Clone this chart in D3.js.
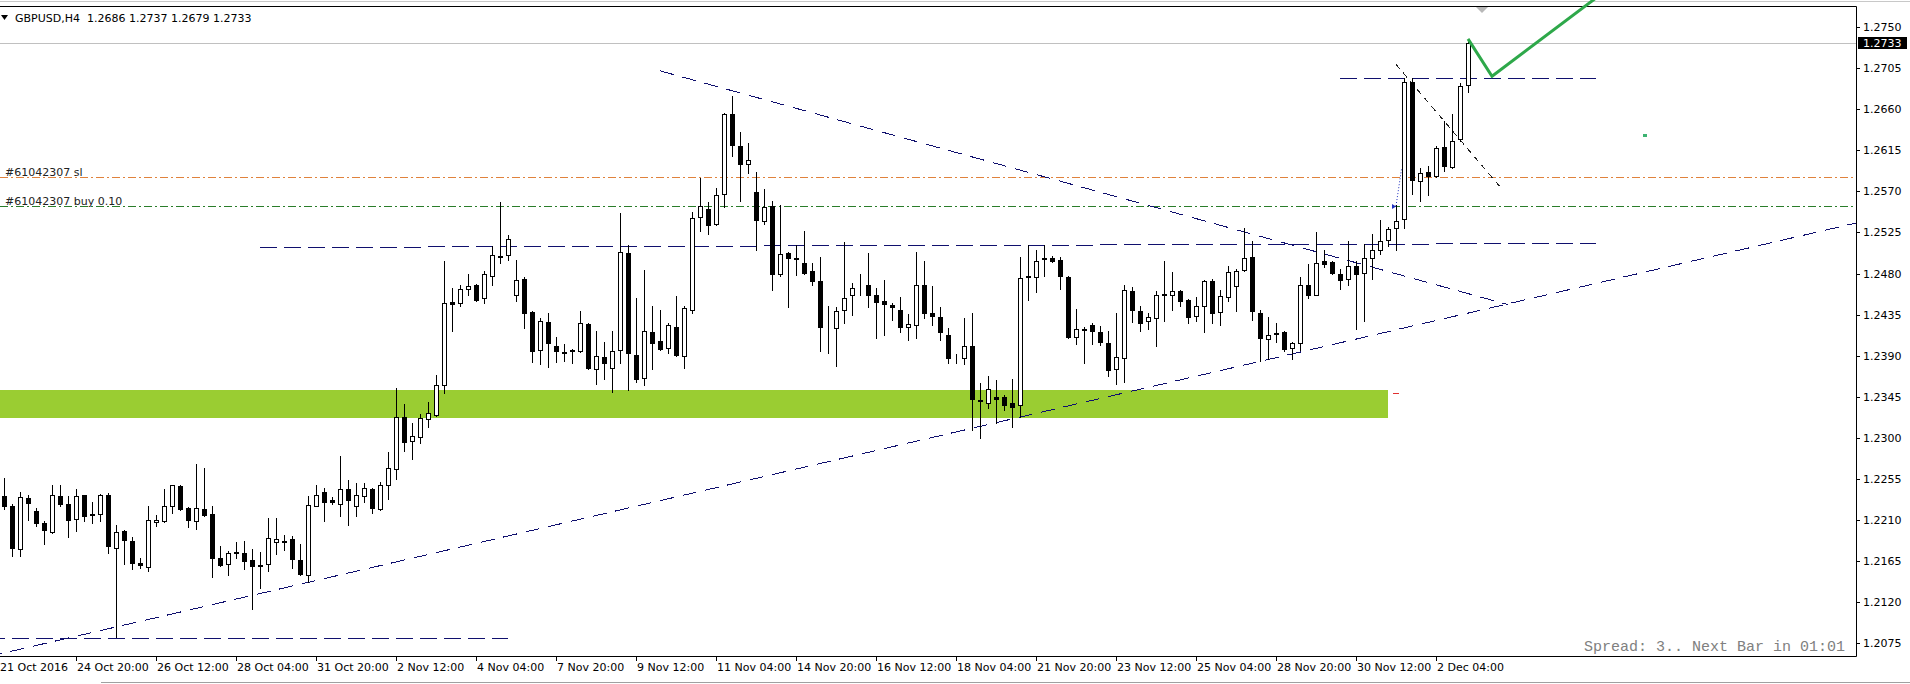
<!DOCTYPE html>
<html>
<head>
<meta charset="utf-8">
<script src="https://cdn.jsdelivr.net/npm/d3@7"></script>
<style>
    html, body { margin: 0; padding: 0; background: #fff; overflow: hidden; }
    svg { display: block; }
    text { font-family: "DejaVu Sans", sans-serif; font-size: 11px; }
</style>
</head>
<body>
<svg id="chart" width="1910" height="684"></svg>
<script>
;(function () {
    "use strict";

    // ---- data (GBPUSD H4, 21 Oct 2016 08:00 .. 2 Dec 2016 20:00) ----
    var symbolTitle = "GBPUSD,H4  1.2686 1.2737 1.2679 1.2733";
    var firstBarTime = "2016-10-21T08:00";

    var openPrices = [
        1.2236,1.2226,1.2178,1.2234,1.2220,1.2207,1.2197,1.2236,1.2228,1.2211,
        1.2237,1.2216,1.2217,1.2238,1.2179,1.2198,1.2187,1.2163,1.2159,1.2208,
        1.2209,1.2225,1.2247,1.2223,1.2209,1.2222,1.2217,1.2169,1.2162,1.2175,
        1.2174,1.2166,1.2160,1.2162,1.2186,1.2187,1.2189,1.2166,1.2150,1.2226,
        1.2241,1.2232,1.2228,1.2244,1.2226,1.2236,1.2244,1.2222,1.2248,1.2266,
        1.2323,1.2297,1.2301,1.2321,1.2325,1.2358,1.2449,1.2448,1.2463,1.2467,
        1.2453,1.2477,1.2498,1.2500,1.2457,1.2474,1.2438,1.2396,1.2427,1.2401,
        1.2393,1.2395,1.2395,1.2425,1.2376,1.2389,1.2377,1.2396,1.2503,1.2391,
        1.2366,1.2416,1.2406,1.2399,1.2422,1.2390,1.2440,1.2542,1.2551,1.2534,
        1.2567,1.2655,1.2620,1.2600,1.2569,1.2538,1.2554,1.2480,1.2503,1.2497,
        1.2492,1.2483,1.2472,1.2421,1.2420,1.2440,1.2456,1.2467,1.2468,1.2456,
        1.2450,1.2446,1.2440,1.2421,1.2424,1.2468,1.2437,1.2432,1.2413,1.2388,
        1.2388,1.2401,1.2342,1.2338,1.2345,1.2345,1.2338,1.2336,1.2476,1.2476,
        1.2496,1.2497,1.2495,1.2476,1.2410,1.2418,1.2424,1.2416,1.2404,1.2375,
        1.2388,1.2461,1.2439,1.2428,1.2431,1.2458,1.2457,1.2461,1.2451,1.2433,
        1.2445,1.2472,1.2438,1.2454,1.2466,1.2484,1.2498,1.2437,1.2408,1.2415,
        1.2416,1.2399,1.2404,1.2467,1.2457,1.2494,1.2493,1.2480,1.2474,1.2488,
        1.2481,1.2497,1.2506,1.2517,1.2530,1.2540,1.2690,1.2581,1.2591,1.2587,
        1.2619,1.2597,1.2627,1.2686
    ];
    var highPrices = [
        1.2256,1.2228,1.2241,1.2238,1.2223,1.2209,1.2249,1.2248,1.2236,1.2244,
        1.2238,1.2230,1.2239,1.2240,1.2205,1.2199,1.2191,1.2168,1.2225,1.2216,
        1.2244,1.2249,1.2248,1.2224,1.2271,1.2267,1.2225,1.2182,1.2176,1.2186,
        1.2187,1.2178,1.2175,1.2212,1.2212,1.2194,1.2193,1.2184,1.2236,1.2249,
        1.2245,1.2235,1.2280,1.2254,1.2251,1.2251,1.2245,1.2252,1.2285,1.2355,
        1.2337,1.2316,1.2326,1.2339,1.2369,1.2494,1.2464,1.2467,1.2479,1.2469,
        1.2483,1.2510,1.2558,1.2522,1.2495,1.2476,1.2439,1.2431,1.2437,1.2410,
        1.2403,1.2397,1.2439,1.2426,1.2417,1.2405,1.2417,1.2546,1.2511,1.2453,
        1.2484,1.2445,1.2440,1.2426,1.2455,1.2445,1.2547,1.2585,1.2558,1.2574,
        1.2656,1.2674,1.2635,1.2623,1.2591,1.2573,1.2559,1.2555,1.2504,1.2511,
        1.2527,1.2492,1.2498,1.2445,1.2443,1.2515,1.2470,1.2479,1.2503,1.2464,
        1.2473,1.2448,1.2454,1.2436,1.2504,1.2494,1.2466,1.2443,1.2420,1.2392,
        1.2431,1.2437,1.2360,1.2368,1.2363,1.2347,1.2365,1.2498,1.2511,1.2506,
        1.2511,1.2499,1.2498,1.2477,1.2441,1.2422,1.2426,1.2423,1.2417,1.2437,
        1.2468,1.2465,1.2445,1.2437,1.2461,1.2494,1.2482,1.2462,1.2452,1.2454,
        1.2473,1.2474,1.2462,1.2488,1.2485,1.2530,1.2516,1.2440,1.2432,1.2426,
        1.2417,1.2405,1.2476,1.2490,1.2526,1.2506,1.2494,1.2485,1.2516,1.2494,
        1.2512,1.2523,1.2539,1.2531,1.2555,1.2694,1.2694,1.2596,1.2598,1.2620,
        1.2647,1.2655,1.2689,1.2737
    ];
    var lowPrices = [
        1.2222,1.2171,1.2171,1.2210,1.2204,1.2184,1.2196,1.2225,1.2192,1.2198,
        1.2209,1.2207,1.2209,1.2174,1.2082,1.2162,1.2157,1.2158,1.2154,1.2204,
        1.2208,1.2218,1.2221,1.2203,1.2200,1.2215,1.2148,1.2160,1.2150,1.2169,
        1.2156,1.2113,1.2136,1.2154,1.2173,1.2177,1.2158,1.2150,1.2142,1.2225,
        1.2209,1.2228,1.2214,1.2205,1.2214,1.2230,1.2218,1.2221,1.2233,1.2255,
        1.2286,1.2277,1.2294,1.2312,1.2324,1.2349,1.2417,1.2445,1.2457,1.2450,
        1.2448,1.2467,1.2492,1.2495,1.2450,1.2420,1.2383,1.2381,1.2378,1.2383,
        1.2384,1.2382,1.2394,1.2376,1.2359,1.2365,1.2350,1.2382,1.2353,1.2361,
        1.2358,1.2376,1.2396,1.2393,1.2390,1.2377,1.2437,1.2527,1.2523,1.2533,
        1.2553,1.2609,1.2559,1.2590,1.2506,1.2534,1.2462,1.2477,1.2443,1.2478,
        1.2480,1.2467,1.2395,1.2393,1.2379,1.2426,1.2435,1.2457,1.2443,1.2409,
        1.2413,1.2429,1.2416,1.2407,1.2409,1.2431,1.2424,1.2407,1.2382,1.2382,
        1.2381,1.2309,1.2300,1.2333,1.2316,1.2331,1.2312,1.2323,1.2451,1.2460,
        1.2477,1.2493,1.2463,1.2409,1.2403,1.2382,1.2403,1.2402,1.2368,1.2359,
        1.2361,1.2427,1.2417,1.2419,1.2401,1.2428,1.2440,1.2444,1.2426,1.2428,
        1.2416,1.2426,1.2424,1.2450,1.2439,1.2483,1.2429,1.2384,1.2386,1.2405,
        1.2395,1.2386,1.2396,1.2453,1.2456,1.2487,1.2480,1.2463,1.2467,1.2419,
        1.2428,1.2474,1.2501,1.2510,1.2506,1.2530,1.2567,1.2559,1.2566,1.2586,
        1.2592,1.2596,1.2625,1.2679
    ];
    var closePrices = [
        1.2226,1.2179,1.2235,1.2229,1.2207,1.2199,1.2237,1.2228,1.2210,1.2236,
        1.2215,1.2217,1.2237,1.2182,1.2197,1.2188,1.2163,1.2161,1.2210,1.2210,
        1.2225,1.2248,1.2222,1.2210,1.2223,1.2216,1.2168,1.2161,1.2174,1.2174,
        1.2165,1.2160,1.2161,1.2190,1.2189,1.2186,1.2167,1.2151,1.2227,1.2238,
        1.2230,1.2230,1.2244,1.2232,1.2237,1.2245,1.2223,1.2248,1.2267,1.2323,
        1.2296,1.2302,1.2322,1.2327,1.2358,1.2448,1.2447,1.2463,1.2466,1.2451,
        1.2479,1.2500,1.2499,1.2518,1.2473,1.2437,1.2395,1.2428,1.2404,1.2395,
        1.2394,1.2396,1.2426,1.2377,1.2390,1.2382,1.2395,1.2504,1.2393,1.2365,
        1.2417,1.2404,1.2397,1.2424,1.2391,1.2442,1.2541,1.2554,1.2533,1.2566,
        1.2655,1.2621,1.2600,1.2604,1.2539,1.2553,1.2479,1.2501,1.2497,1.2496,
        1.2481,1.2472,1.2422,1.2421,1.2439,1.2453,1.2464,1.2468,1.2457,1.2449,
        1.2447,1.2443,1.2422,1.2425,1.2468,1.2437,1.2433,1.2416,1.2387,1.2387,
        1.2401,1.2343,1.2340,1.2354,1.2343,1.2336,1.2334,1.2475,1.2477,1.2494,
        1.2497,1.2494,1.2477,1.2411,1.2419,1.2419,1.2417,1.2405,1.2374,1.2389,
        1.2462,1.2440,1.2426,1.2432,1.2456,1.2457,1.2461,1.2450,1.2432,1.2444,
        1.2472,1.2437,1.2455,1.2482,1.2483,1.2497,1.2439,1.2409,1.2413,1.2414,
        1.2397,1.2404,1.2468,1.2456,1.2492,1.2491,1.2481,1.2473,1.2488,1.2480,
        1.2497,1.2506,1.2516,1.2529,1.2538,1.2690,1.2583,1.2590,1.2587,1.2618,
        1.2598,1.2625,1.2685,1.2733
    ];

    var priceTicks = [1.2750,1.2705,1.2660,1.2615,1.2570,1.2525,1.2480,1.2435,
                      1.2390,1.2345,1.2300,1.2255,1.2210,1.2165,1.2120,1.2075];
    var firstDateLabel = "21 Oct 2016";
    var timeLabels = ["24 Oct 20:00","26 Oct 12:00","28 Oct 04:00","31 Oct 20:00",
                      "2 Nov 12:00","4 Nov 04:00","7 Nov 20:00","9 Nov 12:00",
                      "11 Nov 04:00","14 Nov 20:00","16 Nov 12:00","18 Nov 04:00",
                      "21 Nov 20:00","23 Nov 12:00","25 Nov 04:00","28 Nov 20:00",
                      "30 Nov 12:00","2 Dec 04:00"];

    var bidPrice = 1.2733;
    var orderLines = [
        {label: "#61042307 sl",       price: 1.2586, color: "#e0823c"},
        {label: "#61042307 buy 0.10", price: 1.2554, color: "#2a7d2a"}
    ];
    var zone = {top: 1.2353, bottom: 1.2322, endBar: 173};
    // dashed navy objects: [bar1, price1, bar2, price2, ray]
    var levelLines = [
        [-2, 1.2081, 63, 1.2081],
        [32, 1.2509, 199, 1.2513],
        [167, 1.2694, 199, 1.2694]
    ];
    var trendLines = [
        [14, 1.2093, 121, 1.23106, true],
        [82, 1.2702, 188, 1.2446, false]
    ];
    var shortTrend = [174, 1.2709, 187, 1.2575];
    var arrowPath = [[183, 1.2737], [186, 1.2696], [201, 1.2795]];
    var greenDot = [205, 1.2632];
    var statusText = "Spread: 3.. Next Bar in 01:01";

    // ---- bar times (H4, Mon..Fri) ----
    var fmt = d3.utcFormat("%-d %b %H:%M");
    var barTimes = [];
    var t = new Date(firstBarTime + ":00Z").getTime();
    while (barTimes.length < openPrices.length) {
        var dd = new Date(t);
        if (dd.getUTCDay() !== 0 && dd.getUTCDay() !== 6) barTimes.push(dd);
        t += 4 * 3600 * 1000;
    }

    var W = 1910, plotRight = 1856, plotTop = 7, plotBottom = 656;
    var svg = d3.select("#chart");

    var x = d3.scaleLinear().domain([0, openPrices.length - 1]).range([4, 4 + 8 * (openPrices.length - 1)]);
    var y = d3.scaleLinear().domain([1.2075, 1.2750]).range([643.4, 27]);
    var px = function (i) { return Math.round(x(i)) + 0.5; };
    var py = function (p) { return Math.round(y(p)) + 0.5; };
    var lineAt = function (b1, p1, b2, p2, bx) { return p1 + (p2 - p1) * (bx - b1) / (b2 - b1); };

    var defs = svg.append("defs");
    defs.append("clipPath").attr("id", "plot")
        .append("rect").attr("x", 0).attr("y", plotTop).attr("width", plotRight).attr("height", plotBottom - plotTop);
    defs.append("clipPath").attr("id", "greenclip")
        .append("rect").attr("x", 0).attr("y", 0).attr("width", plotRight).attr("height", plotBottom);

    // window strip & frame
    svg.append("line").attr("x1", 0).attr("x2", W).attr("y1", 1.5).attr("y2", 1.5).attr("stroke", "#c8c8c8");
    svg.append("line").attr("x1", 0).attr("x2", plotRight + 0.5).attr("y1", 6.5).attr("y2", 6.5).attr("stroke", "#000");
    svg.append("line").attr("x1", 0).attr("x2", plotRight + 0.5).attr("y1", plotBottom + 0.5).attr("y2", plotBottom + 0.5).attr("stroke", "#000");
    svg.append("line").attr("x1", plotRight + 0.5).attr("x2", plotRight + 0.5).attr("y1", 6.5).attr("y2", plotBottom + 0.5).attr("stroke", "#000");
    svg.append("line").attr("x1", 101).attr("x2", W).attr("y1", 682.5).attr("y2", 682.5).attr("stroke", "#a0a0a0");

    var plot = svg.append("g").attr("clip-path", "url(#plot)");

    // green zone
    plot.append("rect")
        .attr("x", 0).attr("y", Math.round(y(zone.top)))
        .attr("width", Math.round(x(zone.endBar)))
        .attr("height", Math.round(y(zone.bottom)) - Math.round(y(zone.top)))
        .attr("fill", "#9acd32");
    plot.append("line")
        .attr("x1", Math.round(x(zone.endBar)) + 5).attr("x2", Math.round(x(zone.endBar)) + 11)
        .attr("y1", py(zone.top) + 3).attr("y2", py(zone.top) + 3)
        .attr("stroke", "#e03030");

    // bid line
    plot.append("line").attr("x1", 0).attr("x2", plotRight)
        .attr("y1", py(bidPrice)).attr("y2", py(bidPrice)).attr("stroke", "#c0c0c0");

    // order lines
    orderLines.forEach(function (o) {
        plot.append("line").attr("x1", 0).attr("x2", plotRight - 3)
            .attr("y1", py(o.price)).attr("y2", py(o.price))
            .attr("stroke", o.color).attr("stroke-dasharray", "8,3,2,3");
        plot.append("text").attr("x", 5).attr("y", py(o.price) - 2)
            .attr("fill", "#222").text(o.label);
    });

    // level lines
    plot.selectAll("line.level").data(levelLines).join("line")
        .attr("class", "level")
        .attr("x1", function (d) { return x(d[0]); }).attr("x2", function (d) { return x(d[2]); })
        .attr("y1", function (d) { return py(d[1]); }).attr("y2", function (d) { return py(d[3]); })
        .attr("stroke", "#10106e").attr("stroke-dasharray", "17,7")
        .attr("shape-rendering", "crispEdges");

    // trend lines
    plot.selectAll("line.trend").data(trendLines).join("line")
        .attr("class", "trend")
        .attr("x1", function (d) { return d[4] ? x(-2) : x(d[0]); })
        .attr("y1", function (d) { return y(d[4] ? lineAt(d[0], d[1], d[2], d[3], -2) : d[1]); })
        .attr("x2", function (d) { return d[4] ? x(240) : x(d[2]); })
        .attr("y2", function (d) { return y(d[4] ? lineAt(d[0], d[1], d[2], d[3], 240) : d[3]); })
        .attr("stroke", "#10106e").attr("stroke-dasharray", "14,9")
        .attr("shape-rendering", "crispEdges");

    plot.append("line")
        .attr("x1", x(shortTrend[0])).attr("y1", y(shortTrend[1]))
        .attr("x2", x(shortTrend[2])).attr("y2", y(shortTrend[3]))
        .attr("stroke", "#202020").attr("stroke-dasharray", "6,5")
        .attr("shape-rendering", "crispEdges");

    // trade arrow
    plot.append("line")
        .attr("x1", x(174)).attr("y1", y(orderLines[1].price))
        .attr("x2", x(174.7)).attr("y2", y(1.2595))
        .attr("stroke", "#2030c0").attr("stroke-dasharray", "1,2");
    plot.append("path")
        .attr("d", "M" + (x(174) - 4) + "," + (py(orderLines[1].price) - 2.5) + "l4,2.5l-4,2.5z")
        .attr("fill", "#2030c0");

    // candles
    var bars = d3.range(openPrices.length).map(function (i) {
        return {i: i, o: openPrices[i], h: highPrices[i], l: lowPrices[i], c: closePrices[i]};
    });
    plot.selectAll("line.wick").data(bars).join("line")
        .attr("class", "wick")
        .attr("x1", function (d) { return px(d.i); }).attr("x2", function (d) { return px(d.i); })
        .attr("y1", function (d) { return Math.round(y(d.h)); })
        .attr("y2", function (d) { return Math.round(y(d.l)) + 1; })
        .attr("stroke", "#000");
    plot.selectAll("rect.body").data(bars).join("rect")
        .attr("class", "body")
        .attr("x", function (d) { return px(d.i) - 2; }).attr("width", 4)
        .attr("y", function (d) { return Math.round(y(Math.max(d.o, d.c))) + 0.5; })
        .attr("height", function (d) {
            return Math.max(0, Math.round(y(Math.min(d.o, d.c))) - Math.round(y(Math.max(d.o, d.c))));
        })
        .attr("fill", function (d) { return d.c >= d.o ? "#fff" : "#000"; })
        .attr("stroke", "#000");

    // green drawn path (runs past the frame top)
    svg.append("path")
        .attr("d", d3.line().x(function (d) { return x(d[0]); }).y(function (d) { return y(d[1]); })(arrowPath))
        .attr("fill", "none").attr("stroke", "#2ea84a").attr("stroke-width", 3)
        .attr("clip-path", "url(#greenclip)");

    plot.append("rect").attr("x", Math.round(x(greenDot[0])) - 1).attr("y", Math.round(y(greenDot[1])) - 1)
        .attr("width", 4).attr("height", 3).attr("fill", "#3cb371");

    // shift marker
    svg.append("path").attr("d", "M1476,7L1488,7L1482,13Z").attr("fill", "#b8b8b8");

    // header
    svg.append("path").attr("d", "M1,15L8,15L4.5,20Z").attr("fill", "#000");
    svg.append("text").attr("x", 15).attr("y", 21.5).attr("fill", "#000")
        .style("white-space", "pre").text(symbolTitle);

    // price axis
    var pa = svg.append("g");
    pa.selectAll("line").data(priceTicks).join("line")
        .attr("x1", plotRight + 1).attr("x2", plotRight + 4)
        .attr("y1", function (d) { return py(d); }).attr("y2", function (d) { return py(d); })
        .attr("stroke", "#000");
    pa.selectAll("text").data(priceTicks).join("text")
        .attr("x", plotRight + 7).attr("y", function (d) { return Math.round(y(d)) + 4; })
        .attr("fill", "#000").text(function (d) { return d.toFixed(4); });

    svg.append("rect").attr("x", plotRight + 2).attr("y", Math.round(y(bidPrice)) - 6)
        .attr("width", 49).attr("height", 12).attr("fill", "#000");
    svg.append("text").attr("x", plotRight + 7).attr("y", Math.round(y(bidPrice)) + 4)
        .attr("fill", "#fff").text(bidPrice.toFixed(4));

    // time axis
    var ta = svg.append("g");
    svg.append("text").attr("x", 0).attr("y", 671).attr("fill", "#000").text(firstDateLabel);
    timeLabels.forEach(function (lbl) {
        var idx = barTimes.findIndex(function (tt) { return fmt(tt) === lbl; });
        if (idx < 0) return;
        ta.append("line").attr("x1", px(idx)).attr("x2", px(idx))
            .attr("y1", plotBottom + 1).attr("y2", plotBottom + 5).attr("stroke", "#000");
        ta.append("text").attr("x", px(idx) + 0.5).attr("y", 671).attr("fill", "#000").text(lbl);
    });

    // status text
    svg.append("text").attr("x", plotRight - 11).attr("y", 651)
        .attr("text-anchor", "end").attr("fill", "#808080")
        .style("font-family", "'Liberation Mono', monospace").style("font-size", "15px")
        .text(statusText);
}());
</script>
</body>
</html>
